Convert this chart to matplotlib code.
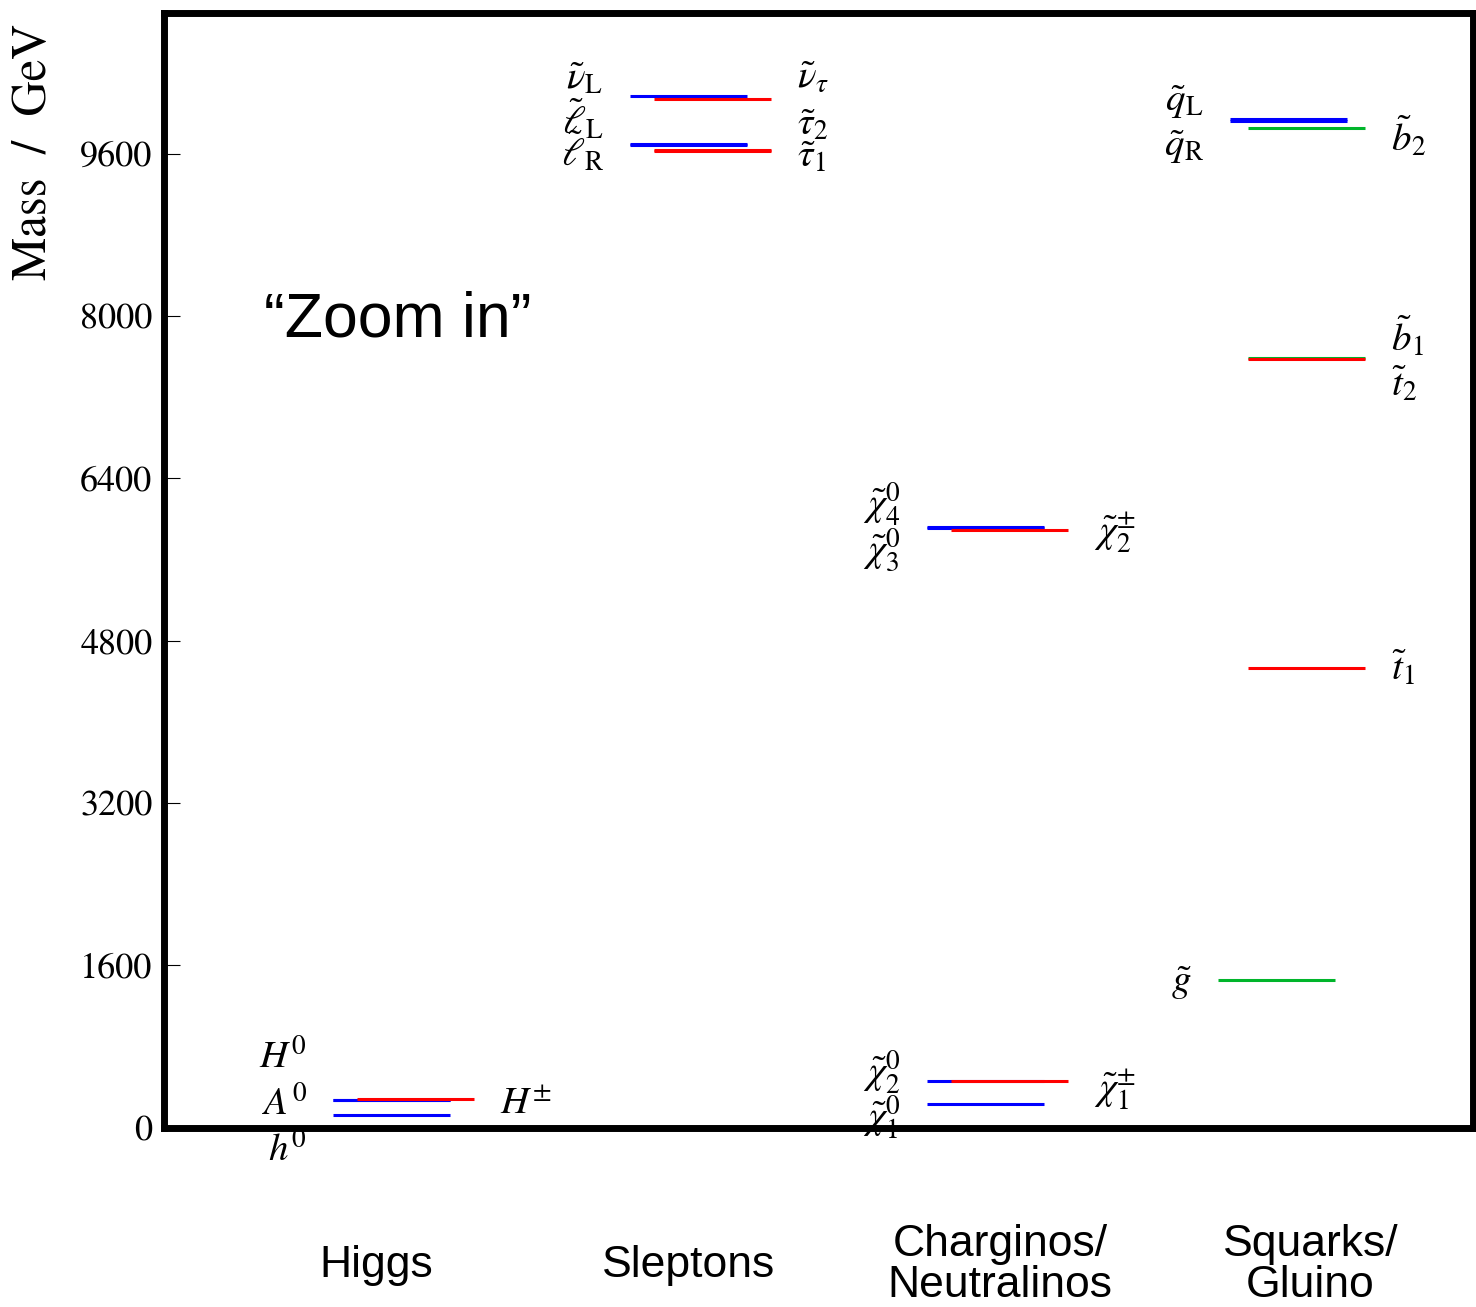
import matplotlib
matplotlib.use("Agg")
import matplotlib.pyplot as plt
from matplotlib.transforms import blended_transform_factory

# ---------------- data ----------------
columns = ["Higgs", "Sleptons", "Charginos/\nNeutralinos", "Squarks/\nGluino"]

particle_labels = [
    r"$h^0$", r"$A^0$", r"$H^0$", r"$H^{\pm}$",
    r"$\tilde{\nu}_{\mathrm{L}}$", r"$\tilde{\ell}_{\mathrm{L}}$", r"$\tilde{\ell}_{\mathrm{R}}$",
    r"$\tilde{\nu}_{\tau}$", r"$\tilde{\tau}_2$", r"$\tilde{\tau}_1$",
    r"$\tilde{\chi}^0_1$", r"$\tilde{\chi}^0_2$", r"$\tilde{\chi}^0_3$", r"$\tilde{\chi}^0_4$",
    r"$\tilde{\chi}^{\pm}_1$", r"$\tilde{\chi}^{\pm}_2$",
    r"$\tilde{q}_{\mathrm{L}}$", r"$\tilde{q}_{\mathrm{R}}$", r"$\tilde{g}$",
    r"$\tilde{b}_1$", r"$\tilde{b}_2$", r"$\tilde{t}_1$", r"$\tilde{t}_2$",
]
particle_masses = [
    125, 273, 275, 280,
    10166, 9690, 9683, 10133, 9630, 9624,
    227, 460, 5910, 5915, 462, 5885,
    9942, 9917, 1455, 7582, 9853, 4532, 7577,
]
particle_column = [
    0, 0, 0, 0,
    1, 1, 1, 1, 1, 1,
    2, 2, 2, 2, 2, 2,
    3, 3, 3, 3, 3, 3, 3,
]
particle_kind = [
    "neutral", "neutral", "neutral", "charged",
    "neutral", "neutral", "neutral", "charged", "charged", "charged",
    "neutral", "neutral", "neutral", "neutral", "charged", "charged",
    "squark", "squark", "gluino", "sbottom", "sbottom", "stop", "stop",
]
y_ticks = [0, 1600, 3200, 4800, 6400, 8000, 9600]

# ---------------- layout / style ----------------
kind_color = {"neutral": "#0000ff", "charged": "#ff0000", "squark": "#0000ff",
              "gluino": "#00b52b", "sbottom": "#00b52b", "stop": "#ff0000"}
kind_xoff = {"neutral": 0.0, "charged": 0.08, "squark": 0.02,
             "gluino": -0.02, "sbottom": 0.08, "stop": 0.08}
kind_side = {"neutral": "left", "charged": "right", "squark": "left",
             "gluino": "left", "sbottom": "right", "stop": "right"}
kind_z = {"neutral": 3, "squark": 3, "gluino": 4, "sbottom": 4, "charged": 5, "stop": 5}
# vertical label offsets in pixels (positive = up) to keep stacked labels apart
label_dy_px = [
    -35, -4, 43, -3,
    18, 25, -6, 23, 27, -5,
    -13, 9, -22, 23, -9, -2,
    17, -26, -3, 22, -9, 0, -25,
]
half_w = 0.197
gap_pt = 19
col_centers = [1, 2, 3, 4]
cat_x = [0.95, 2.0, 3.05, 4.094]

plt.rcParams["mathtext.fontset"] = "stix"

W, H = 1476, 1307
fig = plt.figure(figsize=(W / 100, H / 100), dpi=100)
ax = fig.add_axes([163.5 / W, 1 - 1127.5 / H, (1472.5 - 163.5) / W, (1127.5 - 12.5) / H])

ax.set_xlim(0.2323, 0.2323 + 1309 / 297)
ax.set_ylim(0, 10990)

for lab, m, c, k, dy in zip(particle_labels, particle_masses, particle_column,
                            particle_kind, label_dy_px):
    xc = col_centers[c] + kind_xoff[k]
    ax.hlines(m, xc - half_w, xc + half_w, color=kind_color[k], lw=2.2,
              zorder=kind_z[k])
    if kind_side[k] == "left":
        ax.annotate(lab, xy=(xc - half_w, m), xytext=(-gap_pt, dy * 0.72),
                    textcoords="offset points", ha="right", va="center",
                    fontsize=28)
    else:
        ax.annotate(lab, xy=(xc + half_w, m), xytext=(gap_pt, dy * 0.72),
                    textcoords="offset points", ha="left", va="center",
                    fontsize=28)

for s in ax.spines.values():
    s.set_linewidth(5)
ax.set_xticks([])
ax.set_yticks(y_ticks)
ax.set_yticklabels([str(t) for t in y_ticks], fontfamily="STIXGeneral", fontsize=26)
ax.tick_params(axis="y", direction="in", length=11.5, width=0.8, pad=8)

fig.text(34 / W, 1 - 152 / H, "Mass  /  GeV", rotation=90, ha="center", va="center",
         fontfamily="STIXGeneral", fontsize=35)

sans = ["Liberation Sans", "DejaVu Sans"]
ax.text(0.0764, 0.724, "\u201cZoom in\u201d", transform=ax.transAxes, ha="left",
        va="center", fontsize=45, fontfamily=sans)

tr = blended_transform_factory(ax.transData, fig.transFigure)
for name, x in zip(columns, cat_x):
    ax.text(x, 1 - 1265 / H, name, transform=tr, ha="center", va="center",
            fontsize=32, linespacing=1.0, fontfamily=sans, clip_on=False)

fig.savefig("out.png", dpi=100)
